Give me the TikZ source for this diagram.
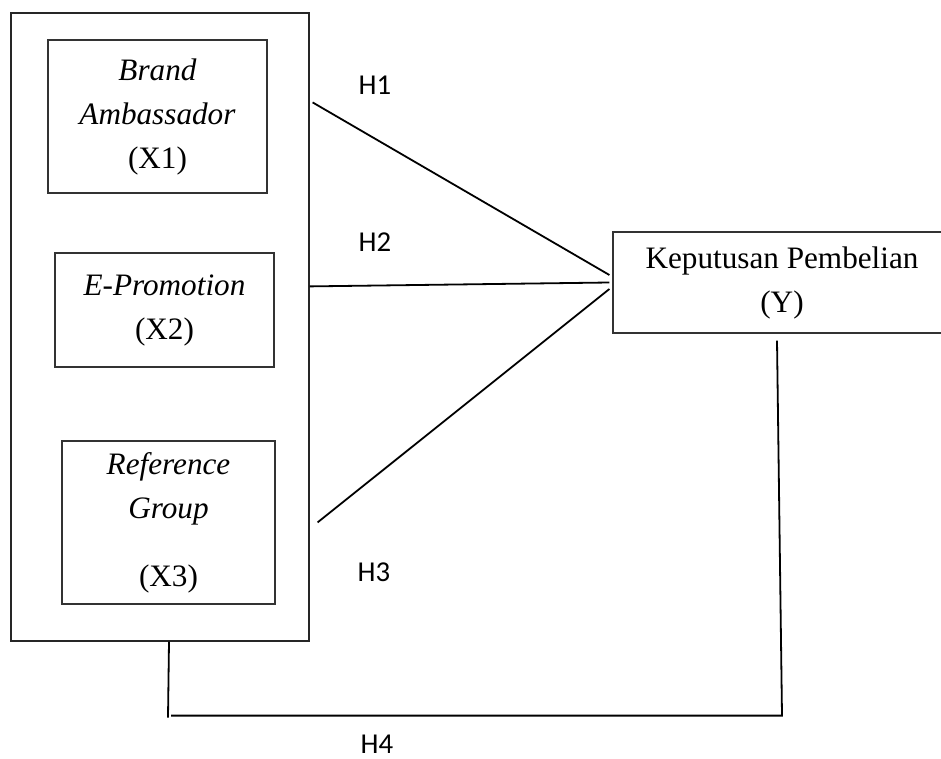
\documentclass[tikz,border=0pt]{standalone}
\usepackage{fontspec}
\setmainfont{Liberation Serif}
\newfontfamily\hfont{Carlito}
\usetikzlibrary{calc}
\begin{document}
\begin{tikzpicture}[x=0.5pt,y=-0.5pt,
  varbox/.style={draw=black!80,line width=0.6pt,rectangle,align=center,inner sep=0pt,
     font=\fontsize{15.6}{22}\selectfont},
  hlabel/.style={font=\hfont\fontsize{14.4}{17}\selectfont,inner sep=0pt},
  conn/.style={draw=black,line width=0.9pt}]
\useasboundingbox (0,0) rectangle (941,759);
% outer frame
\node[draw=black!85,line width=0.6pt,minimum width=149pt,minimum height=314pt,inner sep=0pt] (outer) at (160,327) {};
% variables
\node[varbox,minimum width=109.5pt,minimum height=76.5pt] (x1) at (157.5,116.5)
  {\textit{Brand}\\\textit{Ambassador}\\(X1)};
\node[varbox,minimum width=109.5pt,minimum height=57pt] (x2) at (164.5,310)
  {\textit{E-Promotion}\\(X2)};
\node[varbox,minimum width=106.5pt,minimum height=81.5pt] (x3) at (168.5,522.5)
  {\textit{Reference}\\\textit{Group}\\[12pt](X3)};
\node[varbox,minimum width=169pt,minimum height=50.5pt] (y) at (782,282.5)
  {Keputusan Pembelian\\(Y)};
% connectors
\draw[conn] ($(outer.north east)+(3,90)$) -- ($(y.west)+(-3,-7.5)$);
\draw[conn] ($(outer.north east)+(0,274)$) -- ($(y.west)+(-3,0)$);
\draw[conn] ($(outer.north east)+(8,510)$) -- ($(y.west)+(-3,6.5)$);
\draw[conn] ($(outer.south)+(9,0)$) -- ($(outer.south)+(8,76)$);
\draw[conn] ($(y.south)+(-5,7)$) -- ($(y.south)+(0,382)$) -- ($(outer.south)+(11,74)$);
% labels
\node[hlabel] (h1) at (375,85) {H1};
\node[hlabel] (h2) at (375,242) {H2};
\node[hlabel] (h3) at (374,572) {H3};
\node[hlabel] (h4) at (377,744) {H4};
\end{tikzpicture}
\end{document}
